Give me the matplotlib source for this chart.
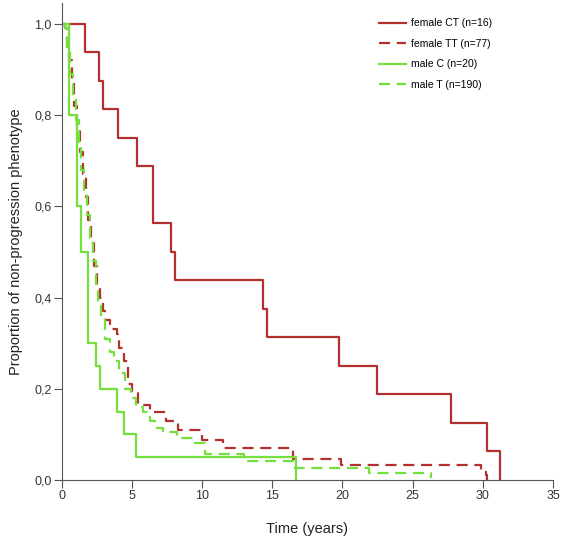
import numpy as np
import matplotlib.pyplot as plt

plt.rcParams['font.family'] = ['Liberation Sans', 'DejaVu Sans']

# Kaplan-Meier curves: (time, proportion after the step)
fct_t = [0, 1.64, 2.67, 2.9, 3.98, 5.36, 6.5, 7.76, 8.07, 14.3, 14.64, 19.74, 22.48, 27.7, 30.3, 31.2]
fct_s = [1.0, 0.9375, 0.875, 0.8125, 0.75, 0.6875, 0.5625, 0.5, 0.4375, 0.375, 0.3125, 0.25, 0.1875, 0.125, 0.0625, 0.0]

ftt_t = [0, 0.2, 0.35, 0.5, 0.7, 0.9, 1.1, 1.3, 1.5, 1.7, 1.9, 2.1, 2.3, 2.5, 2.7, 2.9, 3.1, 3.4, 3.9,
         4.1, 4.4, 4.7, 5.0, 5.4, 6.3, 7.4, 8.3, 10.0, 11.5, 16.5, 19.9, 29.9, 30.2, 30.3]
ftt_s = [1.0, 0.99, 0.95, 0.92, 0.87, 0.82, 0.77, 0.72, 0.67, 0.62, 0.57, 0.52, 0.47, 0.43, 0.40, 0.37, 0.35, 0.33, 0.32,
         0.29, 0.26, 0.21, 0.19, 0.165, 0.15, 0.13, 0.11, 0.088, 0.07, 0.045, 0.033, 0.02, 0.01, 0.0]

mc_t = [0, 0.5, 1.05, 1.4, 1.9, 2.4, 2.7, 3.9, 4.4, 5.3, 16.7]
mc_s = [1.0, 0.8, 0.6, 0.5, 0.3, 0.25, 0.2, 0.15, 0.1, 0.05, 0.0]

mt_t = [0, 0.2, 0.4, 0.6, 0.8, 1.0, 1.2, 1.4, 1.6, 1.8, 2.0, 2.2, 2.4, 2.6, 2.8, 3.1, 3.4, 3.7, 4.1,
        4.5, 4.9, 5.3, 5.8, 6.3, 6.8, 7.2, 8.2, 9.4, 10.2, 13.0, 16.6, 21.9, 26.3]
mt_s = [1.0, 0.99, 0.94, 0.89, 0.84, 0.79, 0.74, 0.68, 0.63, 0.58, 0.53, 0.48, 0.43, 0.39, 0.35, 0.31, 0.28, 0.26, 0.235,
        0.2, 0.18, 0.16, 0.15, 0.13, 0.115, 0.105, 0.092, 0.081, 0.058, 0.042, 0.026, 0.015, 0.005]

labels = ['female CT (n=16)', 'female TT (n=77)', 'male C (n=20)', 'male T (n=190)']
red = '#b3302e'
green = '#74e03c'

fig = plt.figure(figsize=(5.62, 5.41), dpi=100)
ax = fig.add_axes([0.110, 0.1128, 0.874, 0.882])

ax.step(fct_t, fct_s, where='post', color=red, lw=1.6, label=labels[0])
ax.step(ftt_t, ftt_s, where='post', color=red, lw=1.6, dashes=(5, 3), label=labels[1])
ax.step(mc_t, mc_s, where='post', color=green, lw=1.6, label=labels[2])
ax.step(mt_t, mt_s, where='post', color=green, lw=1.6, dashes=(5, 3), label=labels[3])

ax.set_xlim(0, 35)
ax.set_ylim(0, 1.046)
ax.spines['top'].set_visible(False)
ax.spines['right'].set_visible(False)
ax.spines['left'].set_color('#555555')
ax.spines['bottom'].set_color('#555555')
ax.spines['bottom'].set_bounds(0, 35)

ax.set_xticks([0, 5, 10, 15, 20, 25, 30, 35])
ax.set_yticks([0, 0.2, 0.4, 0.6, 0.8, 1.0])
ax.set_yticklabels(['0,0', '0,2', '0,4', '0,6', '0,8', '1,0'])
ax.tick_params(length=5.5, width=0.8, color='#555555', labelsize=9, labelcolor='#333333', pad=2)

ax.set_xlabel('Time (years)', fontsize=10.5, color='#222222', labelpad=14)
ax.set_ylabel('Proportion of non-progression phenotype', fontsize=10.5, color='#222222', labelpad=8)

ax.legend(loc='upper left', bbox_to_anchor=(370 / 562, 1 - 9 / 541), bbox_transform=fig.transFigure,
          frameon=False, prop={'family': 'Liberation Sans', 'size': 7.5},
          handlelength=2.6, handletextpad=0.4, labelspacing=1.0)

fig.savefig('out.png', dpi=100)
